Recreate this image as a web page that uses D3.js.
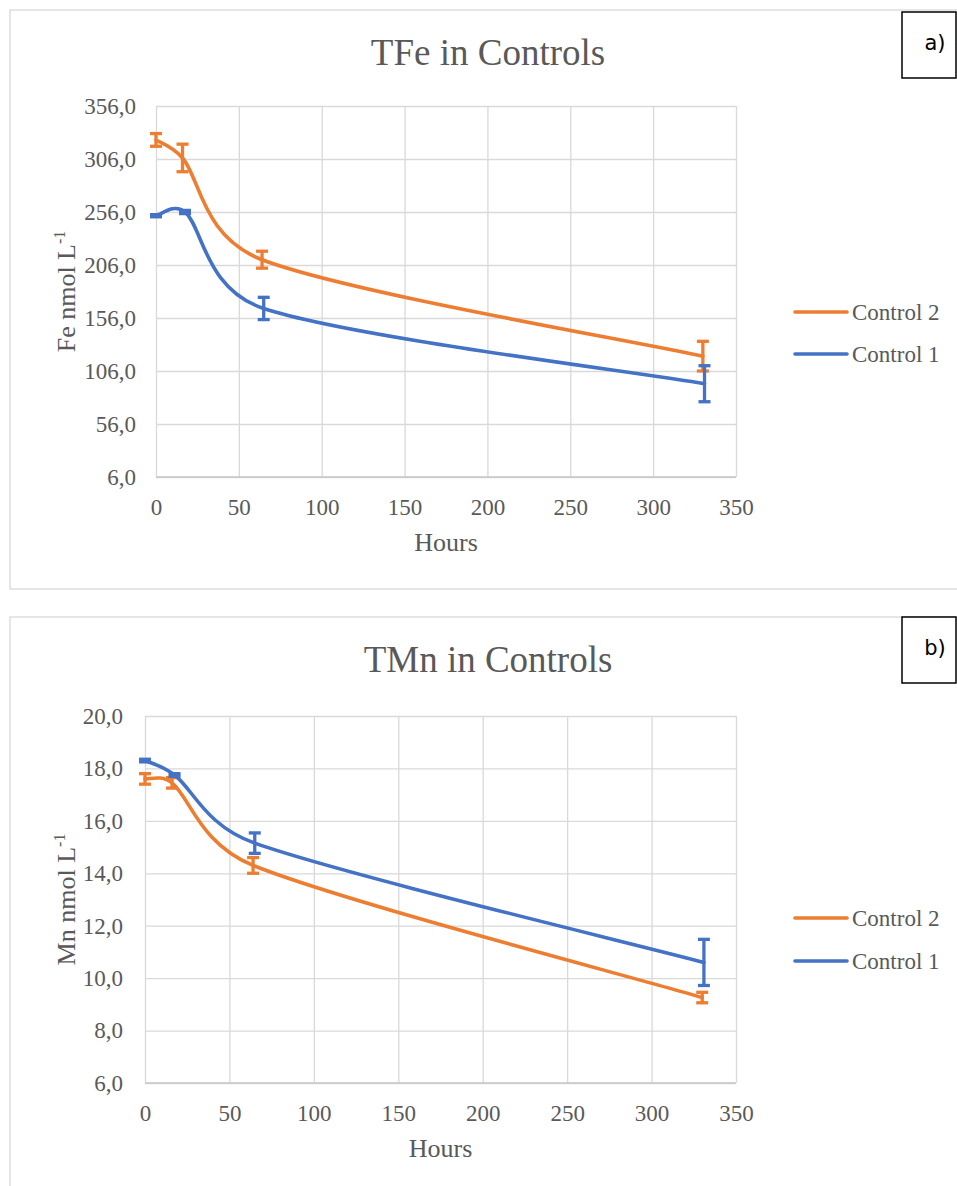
<!DOCTYPE html>
<html>
<head>
<meta charset="utf-8">
<script src="https://cdn.jsdelivr.net/npm/d3@7"></script>
<style>
  html, body { margin: 0; padding: 0; background: #ffffff; }
  svg { display: block; }
  svg text.serif { font-family: "Liberation Serif", "DejaVu Serif", serif; }
</style>
</head>
<body>
<svg id="chart" width="957" height="1186"></svg>
<script>
// ---- Data -------------------------------------------------------------
const seriesNames = ["Control 2", "Control 1"];
const seriesColors = ["#ED7D31", "#4472C4"];

const xTicks = [0, 50, 100, 150, 200, 250, 300, 350];

// Total iron (nmol/L)
const feTicks = [6, 56, 106, 156, 206, 256, 306, 356];
const feHoursC2 = [0, 16, 64, 330];
const feValuesC2 = [324, 307, 211, 120];
const feErrorC2 = [6, 13, 8, 14];
const feHoursC1 = [0, 17.5, 65, 331];
const feValuesC1 = [252.5, 256, 165, 94];
const feErrorC1 = [1, 1.5, 10.5, 17];

// Total manganese (nmol/L)
const mnTicks = [6, 8, 10, 12, 14, 16, 18, 20];
const mnHoursC2 = [0, 16, 64, 330];
const mnValuesC2 = [17.6, 17.45, 14.3, 9.26];
const mnErrorC2 = [0.2, 0.2, 0.3, 0.2];
const mnHoursC1 = [0, 17.5, 65, 331];
const mnValuesC1 = [18.3, 17.75, 15.15, 10.6];
const mnErrorC1 = [0.05, 0.05, 0.39, 0.88];

// ---- Smoothed-line curve ---------------------------------------------
// Cubic Bezier through every point; tangent arms are 1/6 of the chord
// between neighbours, capped at half the length of the segment itself.
function smoothCurve(context) {
  let pts = [];
  const dist = (a, b) => Math.hypot(b[0] - a[0], b[1] - a[1]);
  return {
    areaStart() {}, areaEnd() {},
    lineStart() { pts = []; },
    point(x, y) { pts.push([+x, +y]); },
    lineEnd() {
      const n = pts.length;
      if (!n) return;
      context.moveTo(pts[0][0], pts[0][1]);
      if (n === 1) return;
      for (let i = 0; i < n - 1; i++) {
        const p0 = pts[Math.max(i - 1, 0)], p1 = pts[i], p2 = pts[i + 1], p3 = pts[Math.min(i + 2, n - 1)];
        const d12 = dist(p1, p2), d02 = dist(p0, p2), d13 = dist(p1, p3);
        let f1 = 1 / 6, f2 = 1 / 6;
        if (d02 > 0 && d02 / 6 >= d12 / 2) f1 = d12 / d02 / 2;
        if (d13 > 0 && d13 / 6 >= d12 / 2) f2 = d12 / d13 / 2;
        const c1 = [p1[0] + (p2[0] - p0[0]) * f1, p1[1] + (p2[1] - p0[1]) * f1];
        const c2 = [p2[0] - (p3[0] - p1[0]) * f2, p2[1] - (p3[1] - p1[1]) * f2];
        context.bezierCurveTo(c1[0], c1[1], c2[0], c2[1], p2[0], p2[1]);
      }
    }
  };
}

// ---- Drawing ------------------------------------------------------------
const svg = d3.select("#chart");
const textColor = "#595959";
const gridColor = "#D9D9D9";

const fmtComma = d => d3.format(".1f")(d).replace(".", ",");

function drawPanel(opt) {
  const g = svg.append("g");

  // chart frame
  g.append("rect")
    .attr("x", opt.frame.x).attr("y", opt.frame.y)
    .attr("width", opt.frame.w).attr("height", opt.frame.h)
    .attr("fill", "#fff").attr("stroke", gridColor).attr("stroke-width", 1.3);

  const x = d3.scaleLinear().domain([0, 350]).range([opt.plot.left, opt.plot.right]);
  const y = d3.scaleLinear().domain([opt.yTicks[0], opt.yTicks[opt.yTicks.length - 1]])
    .range([opt.plot.bottom, opt.plot.top]);

  // gridlines + tick labels
  const yAxis = d3.axisLeft(y).tickValues(opt.yTicks).tickFormat(fmtComma)
    .tickSize(-(opt.plot.right - opt.plot.left)).tickPadding(opt.yPad);
  const ya = g.append("g").attr("transform", `translate(${opt.plot.left},0)`).call(yAxis);
  ya.attr("font-family", null).attr("font-size", null);
  ya.select(".domain").remove();
  ya.selectAll(".tick line").attr("stroke", gridColor).attr("stroke-width", 1.3);
  ya.selectAll(".tick text").classed("serif", true)
    .attr("fill", textColor).style("font-size", "23px");

  const xAxis = d3.axisBottom(x).tickValues(xTicks).tickFormat(d3.format("d"))
    .tickSize(-(opt.plot.bottom - opt.plot.top)).tickPadding(opt.xPad);
  const xa = g.append("g").attr("transform", `translate(0,${opt.plot.bottom})`).call(xAxis);
  xa.attr("font-family", null).attr("font-size", null);
  xa.select(".domain").remove();
  xa.selectAll(".tick line").attr("stroke", gridColor).attr("stroke-width", 1.3);
  xa.selectAll(".tick text").classed("serif", true)
    .attr("fill", textColor).style("font-size", "23px");

  // horizontal axis line
  g.append("line")
    .attr("x1", opt.plot.left).attr("x2", opt.plot.right)
    .attr("y1", opt.plot.bottom).attr("y2", opt.plot.bottom)
    .attr("stroke", "#C6C6C6").attr("stroke-width", 1.5);

  // title
  g.append("text").classed("serif", true)
    .attr("x", opt.titleX).attr("y", opt.titleY)
    .attr("text-anchor", "middle")
    .attr("fill", textColor).style("font-size", "37px")
    .text(opt.title);

  // axis titles
  g.append("text").classed("serif", true)
    .attr("x", (opt.plot.left + opt.plot.right) / 2).attr("y", opt.hoursY)
    .attr("text-anchor", "middle")
    .attr("fill", textColor).style("font-size", "26px")
    .text("Hours");

  const yt = g.append("text").classed("serif", true)
    .attr("transform", `translate(${opt.yTitleX},${(opt.plot.top + opt.plot.bottom) / 2}) rotate(-90)`)
    .attr("text-anchor", "middle")
    .attr("fill", textColor).style("font-size", "26px");
  yt.append("tspan").text(opt.yTitle);
  yt.append("tspan").style("font-size", "16px").attr("dy", -10).text("-1");

  // series
  const line = d3.line()
    .x(d => x(d.h)).y(d => y(d.v))
    .curve(smoothCurve);

  opt.series.forEach((s, i) => {
    const pts = s.hours.map((h, k) => ({ h, v: s.values[k], e: s.errors[k] }));
    g.append("path")
      .datum(pts)
      .attr("d", line)
      .attr("fill", "none")
      .attr("stroke", seriesColors[i])
      .attr("stroke-width", 3.6)
      .attr("stroke-linecap", "round");

    const eb = g.append("g").attr("stroke", seriesColors[i]).attr("stroke-width", 3.3);
    pts.forEach(p => {
      const x0 = x(p.h), yt0 = y(p.v + p.e), yb0 = y(p.v - p.e);
      eb.append("line").attr("x1", x0).attr("x2", x0).attr("y1", yt0).attr("y2", yb0);
      eb.append("line").attr("x1", x0 - 6).attr("x2", x0 + 6).attr("y1", yt0).attr("y2", yt0);
      eb.append("line").attr("x1", x0 - 6).attr("x2", x0 + 6).attr("y1", yb0).attr("y2", yb0);
    });
  });

  // legend
  seriesNames.forEach((name, i) => {
    const ly = opt.legendY[i];
    g.append("line")
      .attr("x1", 795).attr("x2", 847).attr("y1", ly).attr("y2", ly)
      .attr("stroke", seriesColors[i]).attr("stroke-width", 3.6)
      .attr("stroke-linecap", "round");
    g.append("text").classed("serif", true)
      .attr("x", 852).attr("y", ly + 8)
      .attr("fill", textColor).style("font-size", "23px")
      .text(name);
  });

  // panel label
  g.append("rect")
    .attr("x", 902).attr("y", opt.labelBoxY).attr("width", 54).attr("height", 66)
    .attr("fill", "#fff").attr("stroke", "#000").attr("stroke-width", 1.5);
  g.append("text")
    .attr("x", 935).attr("y", opt.labelBoxY + 38)
    .attr("text-anchor", "middle")
    .attr("fill", "#000").style("font-family", "'DejaVu Sans', Verdana, sans-serif")
    .style("font-size", "21px")
    .text(opt.label);
}

drawPanel({
  frame: { x: 10, y: 10, w: 960, h: 579 },
  plot: { left: 156, right: 736, top: 106, bottom: 477 },
  yTicks: feTicks,
  yPad: 20, xPad: 22,
  title: "TFe in Controls", titleX: 488, titleY: 65,
  hoursY: 551,
  yTitle: "Fe nmol L", yTitleX: 75,
  series: [
    { hours: feHoursC2, values: feValuesC2, errors: feErrorC2 },
    { hours: feHoursC1, values: feValuesC1, errors: feErrorC1 }
  ],
  legendY: [312, 354],
  labelBoxY: 12, label: "a)"
});

drawPanel({
  frame: { x: 10, y: 617, w: 960, h: 600 },
  plot: { left: 145, right: 736, top: 716, bottom: 1083 },
  yTicks: mnTicks,
  yPad: 22, xPad: 22,
  title: "TMn in Controls", titleX: 488, titleY: 672,
  hoursY: 1157,
  yTitle: "Mn nmol L", yTitleX: 75,
  series: [
    { hours: mnHoursC2, values: mnValuesC2, errors: mnErrorC2 },
    { hours: mnHoursC1, values: mnValuesC1, errors: mnErrorC1 }
  ],
  legendY: [918, 961],
  labelBoxY: 617, label: "b)"
});
</script>
</body>
</html>
